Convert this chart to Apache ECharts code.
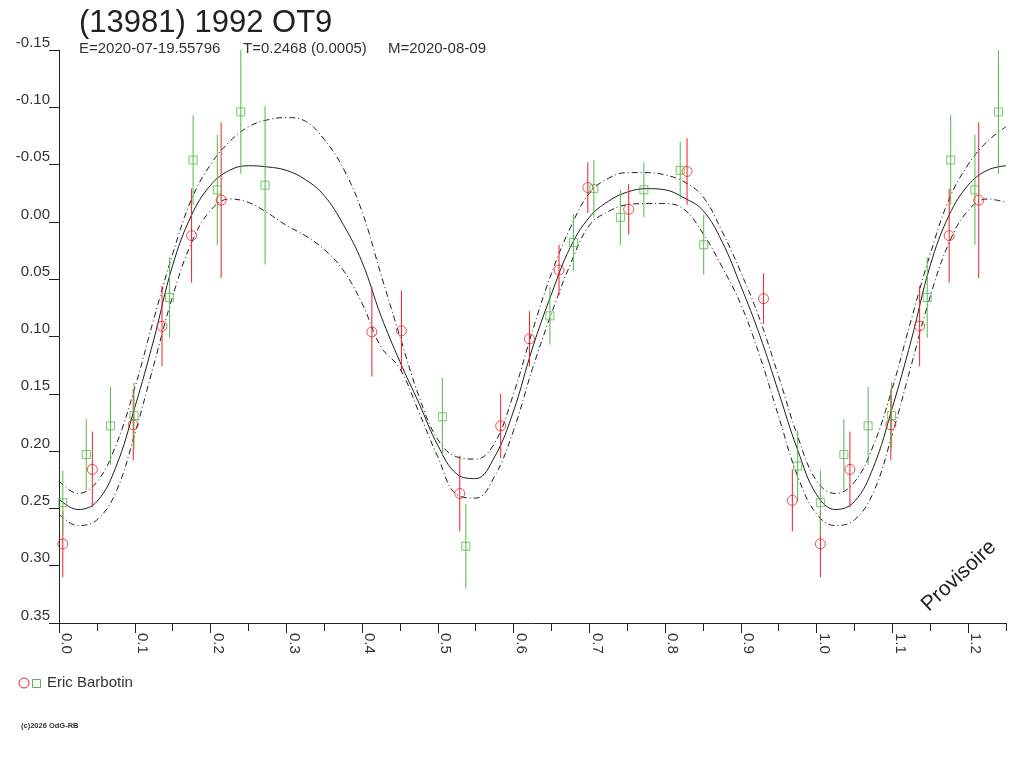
<!DOCTYPE html>
<html>
<head>
<meta charset="utf-8">
<title>(13981) 1992 OT9</title>
<script src="https://cdn.jsdelivr.net/npm/echarts@6/dist/echarts.min.js"></script>
<style>
html, body { margin: 0; padding: 0; background: #fff; }
#main { width: 1024px; height: 768px; }
</style>
</head>
<body>
<div id="main"></div>
<script>
// courbe de lumiere repliee sur la periode, phase 0 -> 1.25
var curvePhase = [0.000, 0.025, 0.050, 0.075, 0.100, 0.125, 0.150, 0.175, 0.200, 0.225,
	0.250, 0.275, 0.300, 0.325, 0.350, 0.375, 0.400, 0.425, 0.450, 0.475,
	0.500, 0.525, 0.550, 0.575, 0.600, 0.625, 0.650, 0.675, 0.700, 0.725,
	0.750, 0.775, 0.800, 0.825, 0.850, 0.875, 0.900, 0.925, 0.950, 0.975,
	1.000, 1.025, 1.050, 1.075, 1.100, 1.125, 1.150, 1.175, 1.200, 1.225, 1.250];

// ajustement (trait plein)
var fitMag = [0.242, 0.251, 0.244, 0.214, 0.162, 0.103, 0.038, -0.006, -0.032, -0.045,
	-0.049, -0.048, -0.045, -0.037, -0.023, 0.002, 0.035, 0.082, 0.122, 0.158,
	0.195, 0.220, 0.224, 0.205, 0.165, 0.110, 0.063, 0.022, -0.004, -0.018,
	-0.026, -0.029, -0.028, -0.021, -0.010, 0.017, 0.056, 0.099, 0.149, 0.199,
	0.238, 0.251, 0.244, 0.214, 0.162, 0.103, 0.038, -0.006, -0.032, -0.045, -0.049];

// enveloppes (tirets-points)
var upperMag = [0.226, 0.237, 0.227, 0.195, 0.145, 0.085, 0.028, -0.020, -0.050, -0.070,
	-0.083, -0.089, -0.091, -0.088, -0.072, -0.047, -0.009, 0.046, 0.100, 0.152,
	0.190, 0.205, 0.207, 0.193, 0.150, 0.095, 0.045, 0.005, -0.025, -0.038,
	-0.043, -0.043, -0.041, -0.035, -0.022, 0.008, 0.044, 0.085, 0.135, 0.187,
	0.226, 0.237, 0.227, 0.195, 0.145, 0.085, 0.028, -0.020, -0.050, -0.070, -0.083];
var lowerMag = [0.255, 0.265, 0.260, 0.236, 0.185, 0.125, 0.065, 0.018, -0.010, -0.020,
	-0.017, -0.008, 0.003, 0.012, 0.024, 0.042, 0.071, 0.109, 0.128, 0.166,
	0.205, 0.238, 0.241, 0.222, 0.182, 0.128, 0.080, 0.037, 0.003, -0.009,
	-0.015, -0.016, -0.016, -0.011, 0.010, 0.039, 0.072, 0.117, 0.170, 0.222,
	0.255, 0.265, 0.260, 0.236, 0.185, 0.125, 0.065, 0.018, -0.010, -0.020, -0.017];

// mesures, cercles rouges
var redPhase = [0.005, 0.044, 0.098, 0.136, 0.175, 0.214, 0.413, 0.452, 0.529, 0.583,
	0.621, 0.660, 0.698, 0.752, 0.829, 0.930, 0.968,
	1.005, 1.044, 1.098, 1.136, 1.175, 1.214];
var redMag = [0.281, 0.216, 0.177, 0.091, 0.012, -0.019, 0.096, 0.095, 0.237, 0.178,
	0.102, 0.042, -0.030, -0.011, -0.044, 0.067, 0.243,
	0.281, 0.216, 0.177, 0.091, 0.012, -0.019];
var redErr = [0.029, 0.033, 0.031, 0.035, 0.041, 0.068, 0.039, 0.035, 0.033, 0.028,
	0.024, 0.022, 0.022, 0.022, 0.029, 0.022, 0.027,
	0.029, 0.033, 0.031, 0.035, 0.041, 0.068];

// mesures, carres verts
var greenPhase = [0.005, 0.036, 0.068, 0.099, 0.146, 0.177, 0.209, 0.240, 0.272, 0.506,
	0.537, 0.648, 0.679, 0.706, 0.741, 0.772, 0.820, 0.851, 0.975,
	1.005, 1.036, 1.068, 1.099, 1.146, 1.177, 1.209, 1.240];
var greenMag = [0.245, 0.203, 0.178, 0.169, 0.066, -0.054, -0.028, -0.096, -0.032, 0.170,
	0.283, 0.082, 0.018, -0.029, -0.004, -0.028, -0.045, 0.020, 0.213,
	0.245, 0.203, 0.178, 0.169, 0.066, -0.054, -0.028, -0.096];
var greenErr = [0.028, 0.031, 0.034, 0.029, 0.035, 0.039, 0.048, 0.054, 0.069, 0.034,
	0.037, 0.025, 0.025, 0.025, 0.024, 0.024, 0.025, 0.026, 0.031,
	0.028, 0.031, 0.034, 0.029, 0.035, 0.039, 0.048, 0.054];

var RED = '#ec2027';
var GREEN = '#54b948';
var INK = '#1e1e1e';
var FONT = '"Liberation Sans", Arial, sans-serif';

function pairs(xs, ys) {
	var out = [];
	for (var i = 0; i < xs.length; i++) {
		out.push([xs[i], ys[i]]);
	}
	return out;
}

function errPoints(xs, ys, es) {
	var out = [];
	for (var i = 0; i < xs.length; i++) {
		out.push([xs[i], ys[i] - es[i], ys[i] + es[i]]);
	}
	return out;
}

function errorBar(color) {
	return function (params, api) {
		var a = api.coord([api.value(0), api.value(1)]);
		var b = api.coord([api.value(0), api.value(2)]);
		return {
			type: 'line',
			shape: { x1: a[0], y1: a[1], x2: b[0], y2: b[1] },
			style: { stroke: color, lineWidth: 1 }
		};
	};
}

function curve(name, ys, dash) {
	return {
		name: name,
		type: 'line',
		data: pairs(curvePhase, ys),
		showSymbol: false,
		smooth: 0.4,
		silent: true,
		z: 1,
		lineStyle: { color: INK, width: 1, type: dash ? [6, 3, 1, 3] : 'solid' }
	};
}

var myChart = echarts.init(document.getElementById('main'));

var option = {
	animation: false,
	backgroundColor: '#ffffff',
	grid: { left: 59, right: 18, top: 50, bottom: 145, containLabel: false },
	xAxis: [{
		type: 'value',
		min: 0,
		max: 1.25,
		interval: 0.1,
		position: 'bottom',
		axisLine: { show: true, onZero: false, lineStyle: { color: '#222', width: 1 } },
		axisTick: { show: true, length: 10, lineStyle: { color: '#222' } },
		axisLabel: {
			rotate: -90,
			margin: 10,
			verticalAlign: 'bottom',
			fontSize: 15,
			fontFamily: FONT,
			color: '#333',
			showMaxLabel: false,
			formatter: function (v) {
				if (Math.abs(v * 10 - Math.round(v * 10)) > 1e-6) return '';
				return v.toFixed(1);
			}
		},
		splitLine: { show: false }
	}, {
		// petites graduations tous les 0.05
		type: 'value',
		min: 0,
		max: 1.25,
		interval: 0.05,
		position: 'bottom',
		axisLine: { show: false, onZero: false },
		axisTick: { show: true, length: 8, lineStyle: { color: '#222' } },
		axisLabel: { show: false },
		splitLine: { show: false }
	}],
	yAxis: {
		type: 'value',
		inverse: true,
		min: -0.15,
		max: 0.35,
		interval: 0.05,
		axisLine: { show: true, onZero: false, lineStyle: { color: '#222', width: 1 } },
		axisTick: { show: true, length: 10, lineStyle: { color: '#222' } },
		axisLabel: {
			margin: 9,
			verticalAlign: 'bottom',
			fontSize: 15,
			fontFamily: FONT,
			color: '#333',
			formatter: function (v) {
				if (Math.abs(v) < 1e-9) v = 0;
				return v.toFixed(2);
			}
		},
		splitLine: { show: false }
	},
	series: [
		curve('fit', fitMag, false),
		curve('upper', upperMag, true),
		curve('lower', lowerMag, true),
		{
			type: 'custom',
			renderItem: errorBar(RED),
			data: errPoints(redPhase, redMag, redErr),
			silent: true,
			z: 2
		},
		{
			type: 'custom',
			renderItem: errorBar(GREEN),
			data: errPoints(greenPhase, greenMag, greenErr),
			silent: true,
			z: 2
		},
		{
			type: 'scatter',
			data: pairs(redPhase, redMag),
			symbol: 'circle',
			symbolSize: 10,
			itemStyle: { color: 'rgba(0,0,0,0)', borderColor: RED, borderWidth: 1 },
			z: 3
		},
		{
			type: 'scatter',
			data: pairs(greenPhase, greenMag),
			symbol: 'rect',
			symbolSize: 8,
			itemStyle: { color: 'rgba(0,0,0,0)', borderColor: GREEN, borderWidth: 1 },
			z: 3
		}
	],
	graphic: [
		{ type: 'text', x: 79, y: 23, style: { text: '(13981) 1992 OT9', fontSize: 31, fontFamily: FONT, fill: '#222', verticalAlign: 'middle' } },
		{ type: 'text', x: 79, y: 49, style: { text: 'E=2020-07-19.55796', fontSize: 15, fontFamily: FONT, fill: '#333', verticalAlign: 'middle' } },
		{ type: 'text', x: 243, y: 49, style: { text: 'T=0.2468 (0.0005)', fontSize: 15, fontFamily: FONT, fill: '#333', verticalAlign: 'middle' } },
		{ type: 'text', x: 388, y: 49, style: { text: 'M=2020-08-09', fontSize: 15, fontFamily: FONT, fill: '#333', verticalAlign: 'middle' } },
		{ type: 'text', x: 959, y: 576, rotation: Math.PI * 43 / 180, style: { text: 'Provisoire', fontSize: 21, fontFamily: FONT, fill: '#222', align: 'center', verticalAlign: 'middle' } },
		{ type: 'circle', shape: { cx: 24, cy: 683, r: 5 }, style: { fill: 'none', stroke: RED, lineWidth: 1 } },
		{ type: 'rect', shape: { x: 32.5, y: 679.5, width: 8, height: 8 }, style: { fill: 'none', stroke: GREEN, lineWidth: 1 } },
		{ type: 'text', x: 47, y: 683, style: { text: 'Eric Barbotin', fontSize: 15, fontFamily: FONT, fill: '#333', verticalAlign: 'middle' } },
		{ type: 'text', x: 21, y: 726, style: { text: '(c)2026 OdG-RB', fontSize: 7.5, fontWeight: 'bold', fontFamily: FONT, fill: '#333', verticalAlign: 'middle' } }
	]
};

myChart.setOption(option);
</script>
</body>
</html>
